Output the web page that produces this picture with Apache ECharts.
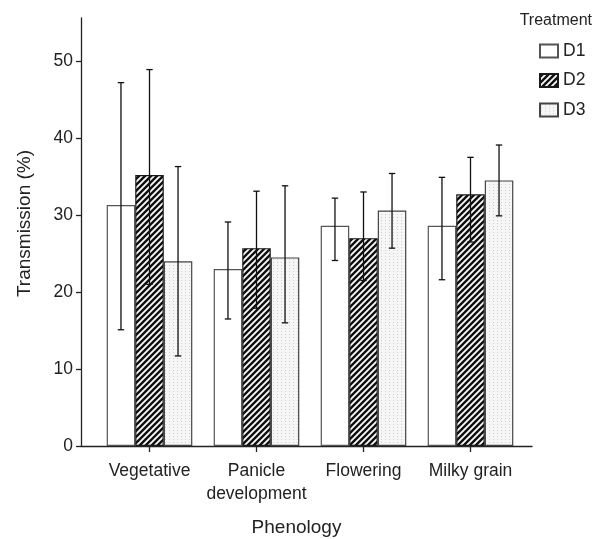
<!DOCTYPE html>
<html><head><meta charset="utf-8">
<script src="https://cdn.jsdelivr.net/npm/echarts@6/dist/echarts.min.js"></script>
<style>html,body{margin:0;padding:0;background:#fff}#c{width:593px;height:539px}</style>
</head><body><div id="c"></div>
<script>
const categories = ['Vegetative', 'Panicle\ndevelopment', 'Flowering', 'Milky grain'];
const treatments = ['D1', 'D2', 'D3'];
const d1Values = [31.3, 23.0, 28.6, 28.6];
const d2Values = [35.2, 25.7, 27.0, 32.7];
const d3Values = [24.0, 24.5, 30.6, 34.5];
const d1Low  = [15.1, 16.5, 24.1, 21.6];
const d1High = [47.2, 29.1, 32.2, 34.9];
const d2Low  = [21.0, 17.9, 21.5, 26.5];
const d2High = [48.9, 33.1, 33.0, 37.5];
const d3Low  = [11.7, 16.0, 25.7, 29.9];
const d3High = [36.3, 33.8, 35.4, 39.1];
const yTicks = [0, 10, 20, 30, 40, 50];

const FONT = "'Liberation Sans', Arial, sans-serif";
const S = { tick: 17.5, legend: 17.5, legendTitle: 16, axisName: 19 };
const INK = '#222';

function stripePattern() {
  const c = document.createElement('canvas');
  c.width = 6; c.height = 6;
  const g = c.getContext('2d');
  g.fillStyle = '#111'; g.fillRect(0, 0, 6, 6);
  g.strokeStyle = '#fff'; g.lineWidth = 1.8;
  g.beginPath();
  g.moveTo(-1, 7); g.lineTo(7, -1);
  g.moveTo(-4, 4); g.lineTo(4, -4);
  g.moveTo(2, 10); g.lineTo(10, 2);
  g.stroke();
  return { image: c, repeat: 'repeat' };
}
function dotPattern() {
  const c = document.createElement('canvas');
  c.width = 4; c.height = 3;
  const g = c.getContext('2d');
  g.fillStyle = '#f6f6f6'; g.fillRect(0, 0, 4, 3);
  g.fillStyle = '#cfcfcf'; g.fillRect(1, 1, 1, 1);
  return { image: c, repeat: 'repeat' };
}

const fills = ['#ffffff', stripePattern(), dotPattern()];
const borders = ['#555', '#1a1a1a', '#444'];
const values = [d1Values, d2Values, d3Values];
const lows = [d1Low, d2Low, d3Low];
const highs = [d1High, d2High, d3High];

function errSeries(idx) {
  return {
    type: 'custom', name: 'err' + idx, xAxisIndex: 1, yAxisIndex: 1, z: 5, silent: true,
    data: lows[idx].map((l, i) => [i, l, highs[idx][i]]),
    encode: { x: 0, y: [1, 2] },
    renderItem(params, api) {
      const band = api.size([1, 0])[0];
      const bw = band * 0.8 / 3;
      const off = (idx - 1) * bw;
      const top = api.coord([api.value(0), api.value(2)]);
      const bot = api.coord([api.value(0), api.value(1)]);
      const x = top[0] + off, cap = 3.2;
      const st = { stroke: '#111', lineWidth: 1.3 };
      return { type: 'group', children: [
        { type: 'line', shape: { x1: x, y1: top[1], x2: x, y2: bot[1] }, style: st },
        { type: 'line', shape: { x1: x - cap, y1: top[1], x2: x + cap, y2: top[1] }, style: st },
        { type: 'line', shape: { x1: x - cap, y1: bot[1], x2: x + cap, y2: bot[1] }, style: st }
      ]};
    }
  };
}

const barSeries = treatments.map((t, i) => ({
  type: 'bar', name: t, xAxisIndex: 1, yAxisIndex: 1,
  data: values[i], barGap: '0%', barCategoryGap: '20%',
  itemStyle: { color: fills[i], borderColor: borders[i], borderWidth: 1.2 },
  emphasis: { disabled: true }
}));

const chart = echarts.init(document.getElementById('c'), null, { renderer: 'canvas' });
chart.setOption({
  animation: false,
  backgroundColor: '#fff',
  textStyle: { fontFamily: FONT, color: INK },
  title: [
    { text: 'Treatment', right: 1, top: 13, padding: 0,
      textStyle: { fontSize: S.legendTitle, fontWeight: 'normal', color: INK, fontFamily: FONT } },
    { text: 'Phenology', left: 'center', top: 518, padding: 0,
      textStyle: { fontSize: S.axisName, fontWeight: 'normal', color: INK, fontFamily: FONT } }
  ],
  legend: {
    data: treatments, orient: 'vertical', left: 539, top: 42, padding: 0,
    itemWidth: 18, itemHeight: 13, itemGap: 11.5, icon: 'rect',
    textStyle: { fontSize: S.legend, lineHeight: 16, color: INK, fontFamily: FONT }
  },
  grid: [
    { left: 81, right: 61, top: 18, bottom: 93 },
    { left: 96, right: 69, top: 18, bottom: 93 }
  ],
  xAxis: [
    { gridIndex: 0, type: 'value', min: 0, max: 1,
      axisLine: { show: true, lineStyle: { color: INK, width: 1.3 } },
      axisTick: { show: false }, axisLabel: { show: false }, splitLine: { show: false } },
    { gridIndex: 1, type: 'category', data: categories,
      axisLine: { show: false },
      axisTick: { show: true, alignWithLabel: true, interval: 0, length: 6, lineStyle: { color: INK, width: 1.3 } },
      axisLabel: { interval: 0, fontSize: S.tick, color: INK, margin: 14, lineHeight: 23, fontFamily: FONT } }
  ],
  yAxis: [
    { gridIndex: 0, type: 'value', min: 0, max: 55.6,
      name: 'Transmission (%)', nameLocation: 'middle', nameGap: 47,
      nameTextStyle: { fontSize: S.axisName, color: INK, fontFamily: FONT, padding: [0, 0, 0, 17] },
      axisLine: { show: true, lineStyle: { color: INK, width: 1.3 } },
      axisTick: { show: true, length: 5, customValues: yTicks, lineStyle: { color: INK, width: 1.3 } },
      axisLabel: { fontSize: S.tick, color: INK, margin: 8, customValues: yTicks, fontFamily: FONT },
      splitLine: { show: false } },
    { gridIndex: 1, type: 'value', min: 0, max: 55.6, show: false, splitLine: { show: false } }
  ],
  series: barSeries.concat([errSeries(0), errSeries(1), errSeries(2)])
});
</script></body></html>
